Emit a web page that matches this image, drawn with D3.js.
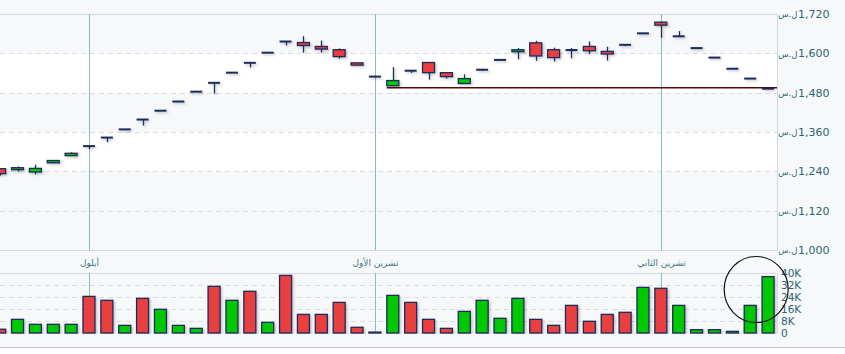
<!DOCTYPE html>
<html>
<head>
<meta charset="utf-8">
<script src="https://cdn.jsdelivr.net/npm/d3@7"></script>
<style>
  body { margin: 0; background: #fff; }
  svg text { font-family: "DejaVu Sans", sans-serif; }
</style>
</head>
<body>
<div id="chart"></div>
<script>
// daily OHLC (ل.س), oldest first
var openP  = [1248,1245,1238,1266,1288,1317,1343,1368,1398,1425,1453,1483,1510,1541,1571,1602,1636,1633,1621,1611,1571,1529,1501,1547,1572,1541,1508,1550,1580,1605,1632,1611,1610,1621,1606,1626,1661,1695,1652,1616,1587,1553,1523,1492];
var highP  = [1250,1255,1260,1274,1298,1317,1343,1368,1398,1425,1453,1483,1510,1541,1571,1602,1636,1652,1639,1615,1571,1529,1558,1547,1572,1541,1536,1550,1580,1616,1638,1617,1616,1636,1620,1626,1661,1697,1668,1616,1587,1553,1523,1492];
var lowP   = [1227,1240,1231,1265,1288,1308,1329,1368,1380,1425,1453,1483,1477,1541,1557,1602,1624,1602,1602,1584,1564,1529,1501,1540,1520,1523,1508,1546,1580,1582,1577,1575,1585,1598,1578,1622,1661,1648,1652,1616,1587,1553,1523,1492];
var closeP = [1233,1251,1249,1273,1295,1317,1343,1368,1398,1425,1453,1483,1510,1541,1571,1602,1636,1624,1613,1590,1564,1529,1517,1547,1541,1529,1523,1550,1580,1611,1592,1587,1610,1608,1598,1626,1661,1686,1652,1616,1587,1553,1523,1492];

// volume in thousands, 1 = green bar, 0 = red bar
var volK  = [2.5,9.1,5.8,5.8,5.8,24.4,21.8,5.1,23.1,15.8,5.1,3.1,31.1,21.8,27.8,7.1,38.4,12.4,12.4,20.4,3.8,0.6,25.1,20.4,9.1,3.1,14.4,21.8,9.8,23.1,9.1,5.1,18.4,7.8,12.4,13.8,30.4,29.8,18.4,2.2,2.2,1.1,18.4,37.6];
var volUp = [0,1,1,1,1,0,0,1,0,1,1,1,0,1,0,1,0,0,0,0,0,0,1,0,0,0,1,1,1,1,0,0,0,0,0,0,1,0,1,1,1,1,1,1];

// month starts (index of first day) and names
var monthIdx   = [5, 21, 37];
var monthNames = ["أيلول", "تشرين الأول", "تشرين الثاني"];

var priceTicks = [1000,1120,1240,1360,1480,1600,1720];
var volTicks   = [0,8,16,24,32,40];
var currency   = "ل.س";

// horizontal line drawn from day 22
var supportLevel = 1495;
var supportFrom  = 22;

var W = 845, H = 354;
var plotR = 777;
var pTop = 14, pBot = 250;
var vTop = 273, vBot = 333;

var green = "#00c800", red = "#e8403f", navy = "#1d2a5c";
var txt = "#2b6672";

var days = openP.map(function(d, i){ return i; });

var x = d3.scaleBand()
          .domain(days)
          .range([-9.3, plotR])
          .padding(0);
var step = x.step();
var bw = 12;
function cx(i){ return x(i) + step / 2; }

var y = d3.scaleLinear().domain([1000, 1720]).range([pBot, pTop]);
var yv = d3.scaleLinear().domain([0, 40]).range([vBot, vTop]);

var svg = d3.select("#chart").append("svg")
            .attr("width", W).attr("height", H);

var defs = svg.append("defs");
defs.append("clipPath").attr("id", "clipP")
    .append("rect").attr("x", 0).attr("y", pTop).attr("width", plotR).attr("height", pBot - pTop);
defs.append("clipPath").attr("id", "clipV")
    .append("rect").attr("x", 0).attr("y", vTop).attr("width", plotR).attr("height", vBot - vTop + 1);
// user space region so flat (zero height) marks still render
var f = defs.append("filter").attr("id", "shadow")
            .attr("filterUnits", "userSpaceOnUse")
            .attr("x", -20).attr("y", 0).attr("width", W + 40).attr("height", H);
f.append("feDropShadow").attr("dx", 1.5).attr("dy", 1.5).attr("stdDeviation", 0.8)
 .attr("flood-color", "#000").attr("flood-opacity", 0.22);

// backgrounds
svg.append("rect").attr("width", W).attr("height", 347).attr("fill", "#f6f8fa");
svg.append("rect").attr("y", 347).attr("width", W).attr("height", H - 347).attr("fill", "#fff");
svg.append("line").attr("x1", 0).attr("x2", W).attr("y1", 347.5).attr("y2", 347.5)
   .attr("stroke", "#b9c0c8");

// white bands
[[1240,1360],[1480,1600]].forEach(function(b){
  svg.append("rect").attr("x", 0).attr("width", plotR)
     .attr("y", y(b[1])).attr("height", y(b[0]) - y(b[1]))
     .attr("fill", "#fff");
});

// price grid
svg.append("g").selectAll("line")
   .data(priceTicks.slice(1, -1))
   .enter().append("line")
   .attr("x1", 0).attr("x2", plotR)
   .attr("y1", function(d){ return Math.round(y(d)) + 0.5; })
   .attr("y2", function(d){ return Math.round(y(d)) + 0.5; })
   .attr("stroke", "#d6dce2").attr("stroke-dasharray", "5,4");

// volume grid
svg.append("g").selectAll("line")
   .data(volTicks.slice(1, -1))
   .enter().append("line")
   .attr("x1", 0).attr("x2", plotR)
   .attr("y1", function(d){ return Math.round(yv(d)) + 0.5; })
   .attr("y2", function(d){ return Math.round(yv(d)) + 0.5; })
   .attr("stroke", "#d6dce2").attr("stroke-dasharray", "5,4");

// panel borders
svg.append("path")
   .attr("d", "M0," + (pTop + 0.5) + "H" + (plotR + 0.5) + "V" + (pBot + 0.5) + "H0")
   .attr("fill", "none").attr("stroke", "#d3dae1");
svg.append("path")
   .attr("d", "M0," + (vTop + 0.5) + "H" + (plotR + 0.5) + "V" + (vBot + 0.5))
   .attr("fill", "none").attr("stroke", "#d3dae1");

// month lines + labels
monthIdx.forEach(function(m, k){
  var mx = Math.round(cx(m)) + 0.5;
  svg.append("line").attr("x1", mx).attr("x2", mx).attr("y1", pTop).attr("y2", pBot)
     .attr("stroke", "#7dc0c5");
  svg.append("line").attr("x1", mx).attr("x2", mx).attr("y1", vTop).attr("y2", vBot)
     .attr("stroke", "#7dc0c5");
  svg.append("text").attr("x", mx).attr("y", 266)
     .attr("text-anchor", "middle").attr("font-size", 9)
     .attr("fill", "#3e7a82").text(monthNames[k]);
});

// support line
svg.append("line")
   .attr("x1", cx(supportFrom) - bw / 2).attr("x2", plotR)
   .attr("y1", y(supportLevel)).attr("y2", y(supportLevel))
   .attr("stroke", "#5a0606").attr("stroke-width", 1.4);

// candles
var cg = svg.append("g").attr("clip-path", "url(#clipP)");
var candles = cg.selectAll("g.c").data(days).enter().append("g").attr("class", "c")
                .attr("filter", "url(#shadow)");

candles.append("line")
   .attr("x1", function(i){ return Math.round(cx(i)) + 0.5; })
   .attr("x2", function(i){ return Math.round(cx(i)) + 0.5; })
   .attr("y1", function(i){ return y(highP[i]); })
   .attr("y2", function(i){ return y(lowP[i]); })
   .attr("stroke", navy).attr("stroke-width", 1.3);

candles.filter(function(i){ return openP[i] === closeP[i]; })
   .append("line")
   .attr("x1", function(i){ return cx(i) - bw / 2; })
   .attr("x2", function(i){ return cx(i) + bw / 2; })
   .attr("y1", function(i){ return y(openP[i]); })
   .attr("y2", function(i){ return y(openP[i]); })
   .attr("stroke", navy).attr("stroke-width", 2);

candles.filter(function(i){ return openP[i] !== closeP[i]; })
   .append("rect")
   .attr("x", function(i){ return cx(i) - bw / 2; })
   .attr("y", function(i){ return y(Math.max(openP[i], closeP[i])); })
   .attr("width", bw)
   .attr("height", function(i){ return Math.max(1.5, Math.abs(y(openP[i]) - y(closeP[i]))); })
   .attr("fill", function(i){ return closeP[i] > openP[i] ? green : red; })
   .attr("stroke", navy).attr("stroke-width", 1.3);

// volume bars
var vg = svg.append("g").attr("clip-path", "url(#clipV)");
vg.selectAll("rect").data(days).enter().append("rect")
  .attr("x", function(i){ return cx(i) - bw / 2; })
  .attr("y", function(i){ return yv(volK[i]); })
  .attr("width", bw)
  .attr("height", function(i){ return yv(0) - yv(volK[i]); })
  .attr("fill", function(i){ return volUp[i] ? green : red; })
  .attr("stroke", navy).attr("stroke-width", 1.3)
  .attr("filter", "url(#shadow)");

// price axis
var pa = svg.append("g").attr("transform", "translate(" + plotR + ",0)")
  .call(d3.axisRight(y).tickValues(priceTicks).tickSize(0).tickPadding(21)
          .tickFormat(d3.format(",")));
pa.select(".domain").remove();
pa.selectAll("text").attr("font-size", 11).attr("fill", txt)
  .attr("font-family", "DejaVu Sans");
pa.selectAll(".tick").append("text")
  .attr("x", 20.5).attr("dy", "0.32em")
  .attr("text-anchor", "end").attr("font-size", 8.5).attr("fill", txt)
  .attr("font-family", "DejaVu Sans")
  .text(currency);

// volume axis
var va = svg.append("g").attr("transform", "translate(" + plotR + ",0)")
  .call(d3.axisRight(yv).tickValues(volTicks).tickSize(0).tickPadding(4)
          .tickFormat(function(d){ return d ? d + "K" : "0"; }));
va.select(".domain").remove();
va.selectAll("text").attr("font-size", 10.5).attr("fill", txt)
  .attr("font-family", "DejaVu Sans");

// hand-drawn circle annotation
svg.append("ellipse")
   .attr("cx", cx(42) + 6).attr("cy", yv(29))
   .attr("rx", 32).attr("ry", 33)
   .attr("fill", "none").attr("stroke", "#111").attr("stroke-width", 1.2);
</script>
</body>
</html>
